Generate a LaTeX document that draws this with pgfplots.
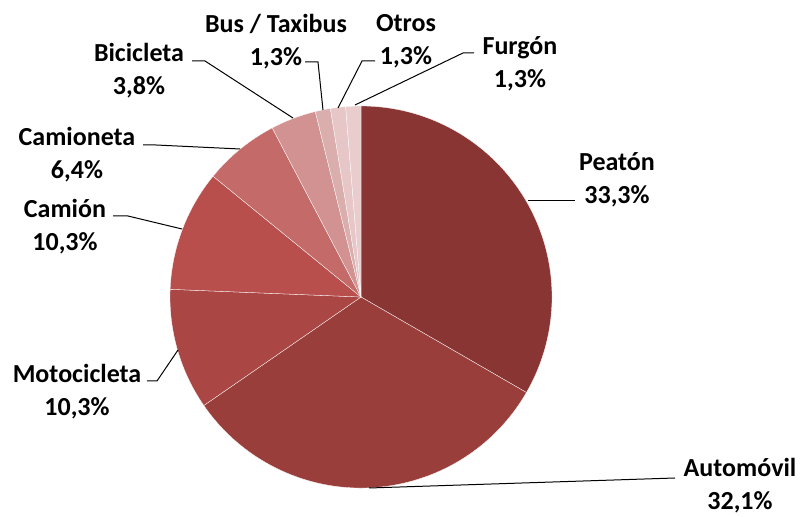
\documentclass[border=0pt]{standalone}
\usepackage{pgfplots}
\usepackage{pgfplotstable}
\pgfplotsset{compat=1.18}
\usepackage{fontspec}
\setmainfont{Carlito}

\definecolor{c1}{HTML}{893533}
\definecolor{c2}{HTML}{9A3E3C}
\definecolor{c3}{HTML}{AA4744}
\definecolor{c4}{HTML}{B84F4C}
\definecolor{c5}{HTML}{C46B69}
\definecolor{c6}{HTML}{D19291}
\definecolor{c7}{HTML}{DBAEAE}
\definecolor{c8}{HTML}{E6C6C7}
\definecolor{c9}{HTML}{E9CDCE}

% victims by type (counts, 78 in total)
\pgfplotstableread{
n  col
26 c1
25 c2
8  c3
8  c4
5  c5
3  c6
1  c7
1  c8
1  c9
}\victims

% build the slice commands once, before the axis
\pgfplotstablegetrowsof{\victims}
\pgfmathtruncatemacro\lastrow{\pgfplotsretval-1}
\def\sumall{0}
\pgfplotsforeachungrouped \r in {0,...,\lastrow}{%
  \pgfplotstablegetelem{\r}{n}\of\victims
  \pgfmathsetmacro\sumall{\sumall+\pgfplotsretval}}
\def\cumval{0}
\def\slices{}
\pgfplotsforeachungrouped \r in {0,...,\lastrow}{%
  \pgfplotstablegetelem{\r}{n}\of\victims \edef\sliceval{\pgfplotsretval}%
  \pgfplotstablegetelem{\r}{col}\of\victims \edef\slicecol{\pgfplotsretval}%
  \pgfmathsetmacro\angfrom{90-\cumval/\sumall*360}%
  \pgfmathsetmacro\cumval{\cumval+\sliceval}%
  \pgfmathsetmacro\angto{90-\cumval/\sumall*360}%
  \xdef\slices{\slices
    \noexpand\fill[fill=\slicecol, draw=white, line width=0.3pt]
      (axis cs:361,220) -- ([shift={(\angfrom:191pt)}]axis cs:361,220)
      arc[start angle=\angfrom, end angle=\angto, radius=191pt] -- cycle;}}

\tikzset{lbl/.style={font=\fontsize{26}{33}\selectfont\bfseries, align=center},
  lead/.style={draw=black, line width=1pt}}

\begin{document}
\begin{tikzpicture}
\begin{axis}[hide axis, scale only axis, width=801pt, height=517pt,
  xmin=0, xmax=801, ymin=0, ymax=517, clip=false]
  % keep the whole plot area as the page
  \path (rel axis cs:0,0) rectangle (rel axis cs:1,1);
  \slices

  % leader lines
  \draw[lead] (axis cs:528,316) -- (axis cs:575,316);
  \draw[lead] (axis cs:369,29) -- (axis cs:675,39);
  \draw[lead] (axis cs:178,167) -- (axis cs:157,136) -- (axis cs:147,136);
  \draw[lead] (axis cs:182,288) -- (axis cs:128,301) -- (axis cs:113,301);
  \draw[lead] (axis cs:240,368) -- (axis cs:156,372) -- (axis cs:143,372);
  \draw[lead] (axis cs:293,399) -- (axis cs:205,456) -- (axis cs:192,456);
  \draw[lead] (axis cs:323,407) -- (axis cs:318,455) -- (axis cs:305,455);
  \draw[lead] (axis cs:338,409) -- (axis cs:362,456) -- (axis cs:375,456);
  \draw[lead] (axis cs:355,412) -- (axis cs:463,464) -- (axis cs:474,464);

  % labels
  \node[lbl] at (axis cs:617,337.5) {Peatón\\33,3\%};
  \node[lbl] at (axis cs:740,31.5) {Automóvil\\32,1\%};
  \node[lbl] at (axis cs:77,125.5) {Motocicleta\\10,3\%};
  \node[lbl] at (axis cs:65,290.5) {Camión\\10,3\%};
  \node[lbl] at (axis cs:77,362) {Camioneta\\6,4\%};
  \node[lbl] at (axis cs:139,446) {Bicicleta\\3,8\%};
  \node[lbl] at (axis cs:276,475.5) {Bus / Taxibus\\1,3\%};
  \node[lbl] at (axis cs:406,475.5) {Otros\\1,3\%};
  \node[lbl] at (axis cs:520,453.5) {Furgón\\1,3\%};
\end{axis}
\end{tikzpicture}
\end{document}
